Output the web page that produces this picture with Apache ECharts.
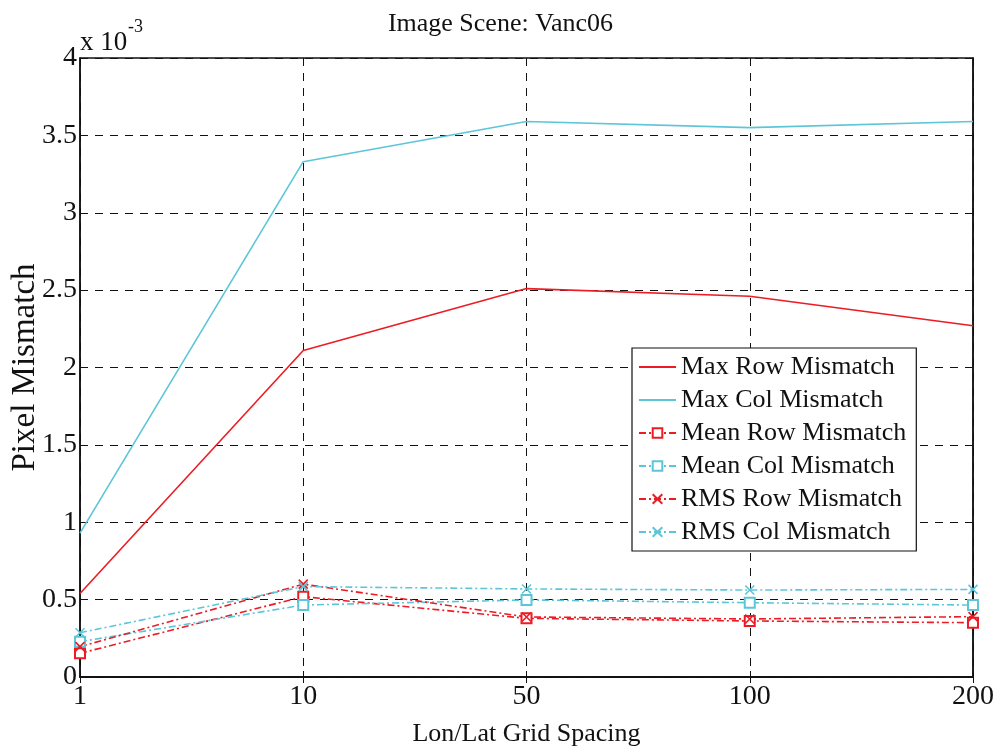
<!DOCTYPE html>
<html>
<head>
<meta charset="utf-8">
<script src="https://cdn.jsdelivr.net/npm/echarts@6/dist/echarts.min.js"></script>
<style>
html,body{margin:0;padding:0;background:#fff;}
#chart{width:1001px;height:754px;}
</style>
</head>
<body>
<div id="chart"></div>
<script>
// x categories (grid spacing)
var categories = ['1', '10', '50', '100', '200'];
// values in units of 1e-3
var maxRow  = [0.54, 2.11, 2.51, 2.46, 2.27];
var maxCol  = [0.93, 3.33, 3.59, 3.55, 3.59];
var meanRow = [0.153, 0.519, 0.379, 0.362, 0.351];
var meanCol = [0.228, 0.465, 0.498, 0.480, 0.465];
var rmsRow  = [0.196, 0.600, 0.388, 0.375, 0.390];
var rmsCol  = [0.286, 0.584, 0.569, 0.562, 0.566];
var yTicks = [0, 0.5, 1, 1.5, 2, 2.5, 3, 3.5, 4];

var RED = '#ec1c24';
var CYAN = '#5cc6d8';
var FONT = 'Liberation Serif';
var dashDot = [7, 3, 2, 3];
var xPath = 'path://M0,0L10,10M10,0L0,10';

var chart = echarts.init(document.getElementById('chart'));

function markLine(name, data, color, kind) {
  var s = {
    name: name, type: 'line', data: data, animation: false,
    lineStyle: {color: color, width: 1.6},
    itemStyle: {color: color}
  };
  if (kind === 'solid') {
    s.symbol = 'none';
  } else if (kind === 'square') {
    s.symbol = 'emptyRect';
    s.symbolSize = 10;
    s.lineStyle.type = dashDot;
    s.itemStyle = {color: color, borderWidth: 1.6};
  } else {
    s.symbol = xPath;
    s.symbolSize = 9;
    s.lineStyle.type = dashDot;
    s.itemStyle = {color: color, borderColor: color, borderWidth: 1.6};
  }
  return s;
}

var option = {
  backgroundColor: '#fff',
  animation: false,
  title: {
    text: 'Image Scene: Vanc06',
    left: 'center', top: 6,
    textStyle: {fontFamily: FONT, fontSize: 26, fontWeight: 'normal', color: '#111'}
  },
  grid: {left: 80, right: 28, top: 58, bottom: 77, show: true, borderColor: '#111', borderWidth: 1.5,
    containLabel: false, outerBoundsMode: 'none'},
  legend: {
    orient: 'vertical',
    left: 632, top: 348,
    width: 295,
    padding: [6, 10, 6, 6],
    itemGap: 7,
    itemWidth: 37, itemHeight: 12,
    borderColor: '#111', borderWidth: 1.2,
    backgroundColor: '#fff',
    textStyle: {fontFamily: FONT, fontSize: 26, color: '#111', lineHeight: 26, padding: [0, 0, 0, 0]},
    data: [
      {name: 'Max Row Mismatch', itemStyle: {opacity: 0}},
      {name: 'Max Col Mismatch', itemStyle: {opacity: 0}},
      'Mean Row Mismatch', 'Mean Col Mismatch', 'RMS Row Mismatch', 'RMS Col Mismatch'
    ]
  },
  xAxis: [{
    type: 'category', data: categories, boundaryGap: false,
    axisLine: {lineStyle: {color: '#111', width: 1.5}},
    axisTick: {inside: true, length: 6, lineStyle: {color: '#111'}},
    axisLabel: {fontFamily: FONT, fontSize: 28, color: '#111', margin: 6},
    splitLine: {show: true, lineStyle: {color: '#111', type: [8, 7], width: 1}},
    name: 'Lon/Lat Grid Spacing', nameLocation: 'middle', nameGap: 44, nameMoveOverlap: false,
    nameTextStyle: {fontFamily: FONT, fontSize: 26, color: '#111'}
  }, {
    type: 'category', data: categories, boundaryGap: false, position: 'top',
    axisLine: {lineStyle: {color: '#111', width: 1.5}},
    axisTick: {inside: true, length: 6, lineStyle: {color: '#111'}},
    axisLabel: {show: false}, splitLine: {show: false}
  }],
  yAxis: [{
    type: 'value', min: 0, max: 4, interval: 0.5,
    axisLine: {show: true, lineStyle: {color: '#111', width: 1.5}},
    axisTick: {show: true, inside: true, length: 6, lineStyle: {color: '#111'}},
    axisLabel: {fontFamily: FONT, fontSize: 28, color: '#111', margin: 3,
      formatter: function (v) { return yTicks.indexOf(v) >= 0 ? String(v) : ''; }},
    splitLine: {show: true, lineStyle: {color: '#111', type: [8, 7], width: 1}},
    name: 'Pixel Mismatch', nameLocation: 'middle', nameGap: 38, nameMoveOverlap: false,
    nameTextStyle: {fontFamily: FONT, fontSize: 33, color: '#111'}
  }, {
    type: 'value', min: 0, max: 4, interval: 0.5, position: 'right',
    axisLine: {show: true, lineStyle: {color: '#111', width: 1.5}},
    axisTick: {show: true, inside: true, length: 6, lineStyle: {color: '#111'}},
    axisLabel: {show: false}, splitLine: {show: false}
  }],
  graphic: [
    {type: 'text', left: 80, top: 29, style: {text: 'x 10', font: '27px "Liberation Serif"', fill: '#111'}},
    {type: 'text', left: 128, top: 18, style: {text: '-3', font: '18px "Liberation Serif"', fill: '#111'}}
  ],
  series: [
    markLine('Max Row Mismatch', maxRow, RED, 'solid'),
    markLine('Max Col Mismatch', maxCol, CYAN, 'solid'),
    markLine('Mean Row Mismatch', meanRow, RED, 'square'),
    markLine('Mean Col Mismatch', meanCol, CYAN, 'square'),
    markLine('RMS Row Mismatch', rmsRow, RED, 'x'),
    markLine('RMS Col Mismatch', rmsCol, CYAN, 'x')
  ]
};
chart.setOption(option);
</script>
</body>
</html>
